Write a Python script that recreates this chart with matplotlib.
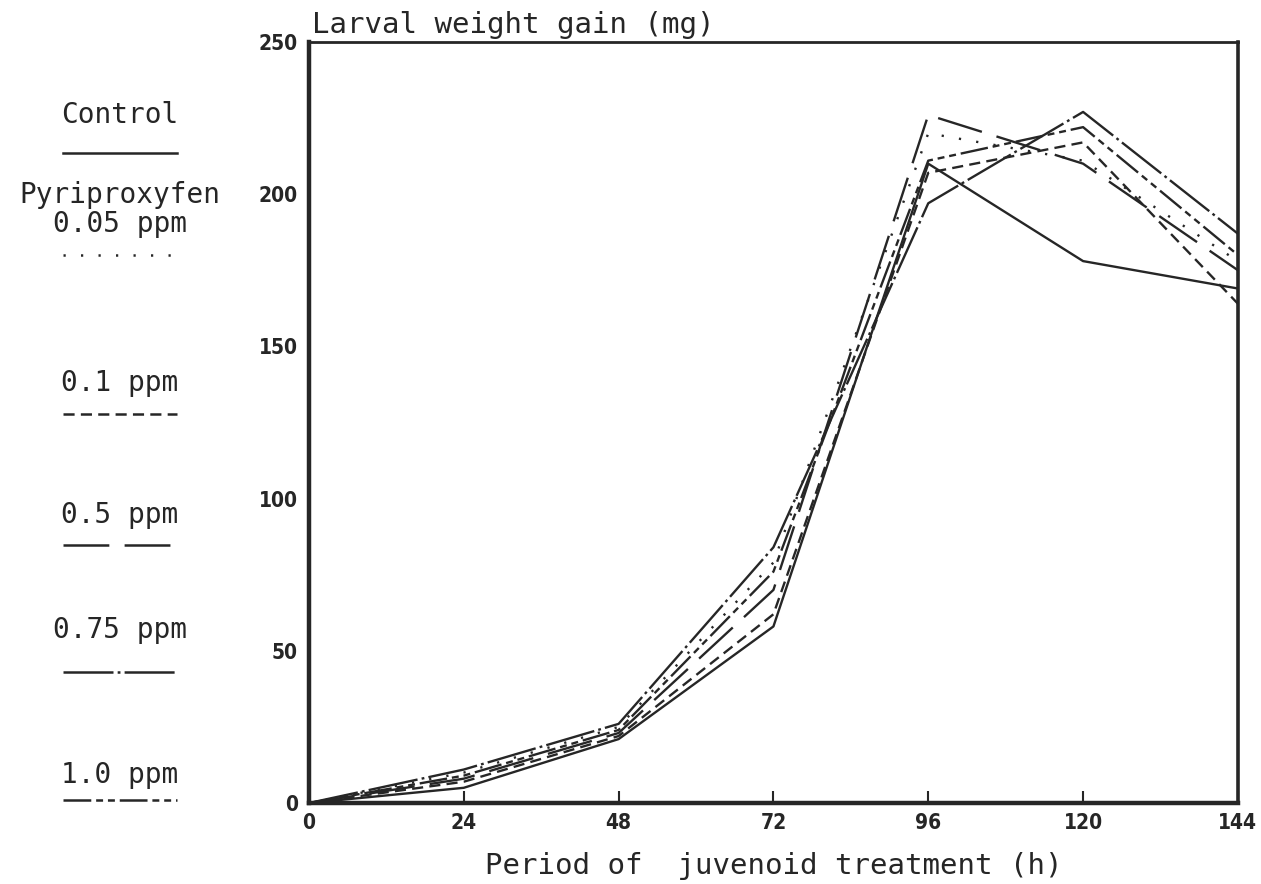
import matplotlib

matplotlib.use("Agg")
import matplotlib.pyplot as plt
from matplotlib.lines import Line2D

plt.rcParams["lines.scale_dashes"] = False

# period of treatment (h)
hours = [0, 24, 48, 72, 96, 120, 144]

# larval weight gain (mg)
control = [0, 5, 21, 58, 210, 178, 169]
ppm_005 = [0, 10, 25, 79, 220, 211, 178]
ppm_01 = [0, 7, 22, 62, 207, 217, 164]
ppm_05 = [0, 8, 23, 70, 226, 210, 175]
ppm_075 = [0, 11, 26, 84, 197, 227, 187]
ppm_10 = [0, 9, 24, 76, 211, 222, 180]

labels = ["Control", "0.05 ppm", "0.1 ppm", "0.5 ppm", "0.75 ppm", "1.0 ppm"]
series = [control, ppm_005, ppm_01, ppm_05, ppm_075, ppm_10]

# dash patterns in points (plotter style line codes)
DASHES = [
    None,
    (1.6, 11),
    (8, 4.5),
    (33, 11),
    (36, 3, 2, 3),
    (20, 3.5, 5, 3.5, 5, 3.5),
]

MONO = "DejaVu Sans Mono"
INK = "#262626"

fig = plt.figure(figsize=(12.61, 8.84), dpi=100)
ax = fig.add_axes([0.245, 0.0916, 0.7367, 0.861])

for vals, dash in zip(series, DASHES):
    (ln,) = ax.plot(hours, vals, color=INK, lw=1.7)
    if dash is not None:
        ln.set_dashes(dash)

ax.set_xlim(0, 144)
ax.set_ylim(0, 250)
ax.set_xticks(hours)
ax.set_yticks([0, 50, 100, 150, 200, 250])
ax.tick_params(axis="x", direction="in", length=9, width=1.5, pad=7, colors=INK)
ax.tick_params(axis="y", length=0, pad=8, colors=INK)
for t in ax.get_xticklabels() + ax.get_yticklabels():
    t.set_fontsize(15)
    t.set_fontweight("bold")
    t.set_fontstretch("condensed")
    t.set_color(INK)

for side, w in {"left": 3.2, "bottom": 3.2, "right": 2.6, "top": 2.0}.items():
    ax.spines[side].set_linewidth(w)
    ax.spines[side].set_color(INK)

ax.text(0.003, 1.004, "Larval weight gain (mg)", transform=ax.transAxes,
        family=MONO, fontsize=21, color=INK, ha="left", va="bottom")
ax.set_xlabel("Period of  juvenoid treatment (h)", family=MONO, fontsize=21,
              color=INK, labelpad=14)

# hand-drawn legend down the left margin
W, H = 1261, 884


def fx(px):
    return px / W


def fy(py):
    return 1 - py / H


legend_rows = [
    (115, 153, "Control"),
    (224, 255, "0.05 ppm"),
    (383, 414, "0.1 ppm"),
    (515, 545, "0.5 ppm"),
    (630, 672, "0.75 ppm"),
    (775, 800, "1.0 ppm"),
]
for (ty, ly, txt), dash in zip(legend_rows, DASHES):
    fig.text(fx(120), fy(ty), txt, family=MONO, fontsize=20, color=INK,
             ha="center", va="center")
    ln = Line2D([fx(63), fx(177)], [fy(ly), fy(ly)], transform=fig.transFigure,
                color=INK, lw=1.8)
    if dash is not None:
        ln.set_dashes(dash)
    fig.add_artist(ln)

fig.text(fx(120), fy(195), "Pyriproxyfen", family=MONO, fontsize=20,
         color=INK, ha="center", va="center")

fig.savefig("out.png", dpi=100, facecolor="white")
